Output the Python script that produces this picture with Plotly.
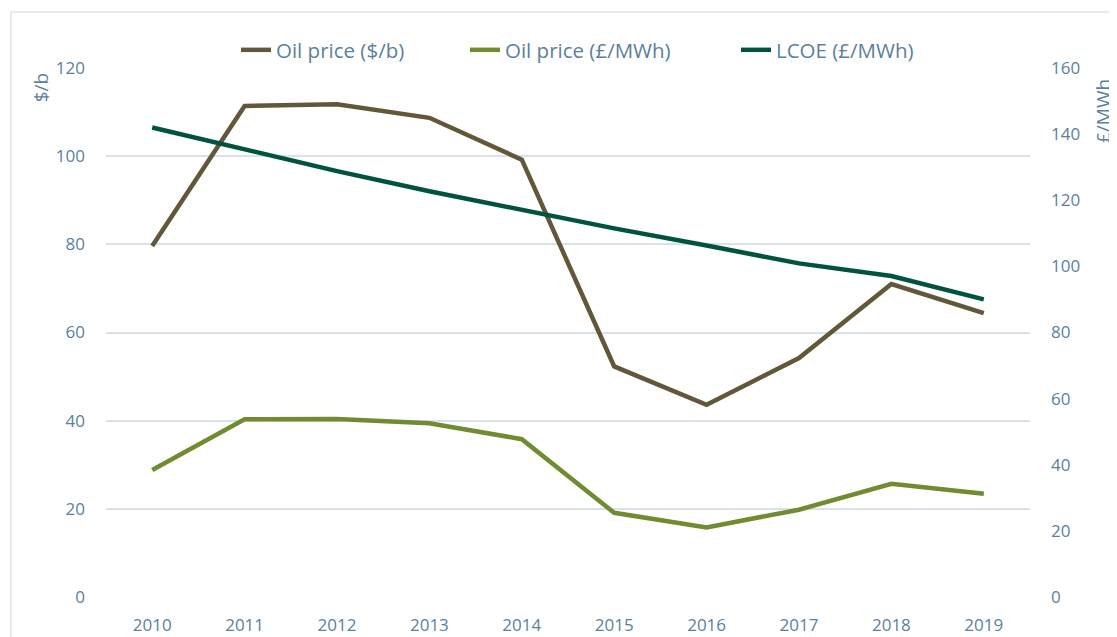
import plotly.graph_objects as go

years = ["2010", "2011", "2012", "2013", "2014", "2015", "2016", "2017", "2018", "2019"]
oil_usd_bbl = [79.6, 111.4, 111.8, 108.7, 99.2, 52.3, 43.6, 54.2, 71.0, 64.4]
oil_gbp_mwh = [28.8, 40.3, 40.4, 39.4, 35.8, 19.1, 15.8, 19.8, 25.7, 23.4]
lcoe_gbp_mwh = [142.0, 135.4, 128.8, 122.7, 117.1, 111.5, 106.3, 100.9, 97.1, 90.0]

left_ticks = [0, 20, 40, 60, 80, 100, 120]
right_ticks = [0, 20, 40, 60, 80, 100, 120, 140, 160]

TXT = "#5b7f9d"
GRID = "#d9e2ea"
FONT = "Open Sans"

fig = go.Figure()
fig.add_trace(go.Scatter(x=years, y=oil_usd_bbl, name="Oil price ($/b)", mode="lines",
                         line=dict(color="#635739", width=4.5), legend="legend"))
fig.add_trace(go.Scatter(x=years, y=oil_gbp_mwh, name="Oil price (£/MWh)", mode="lines",
                         line=dict(color="#718c30", width=4.5), legend="legend2"))
fig.add_trace(go.Scatter(x=years, y=lcoe_gbp_mwh, name="LCOE (£/MWh)", mode="lines",
                         line=dict(color="#00533f", width=4.5), yaxis="y2", legend="legend3"))

W, H = 1109, 629


def leg(text_start_screen):
    return dict(orientation="h", xref="container", yref="container",
                x=(text_start_screen - 8 - 42) / W, xanchor="left",
                y=1 - 42 / H, yanchor="middle",
                font=dict(size=20.5, color=TXT), bgcolor="rgba(0,0,0,0)")


fig.update_layout(
    width=W, height=H,
    margin=dict(l=98, r=87, t=60, b=40, autoexpand=False),
    paper_bgcolor="white", plot_bgcolor="white",
    font=dict(family=FONT, color=TXT, size=17),
    showlegend=True,
    legend=leg(278), legend2=leg(507), legend3=leg(778),
    xaxis=dict(type="category", range=[-0.5, 9.5], showgrid=False, showline=False,
               zeroline=False, ticks="", ticklabelstandoff=16,
               tickfont=dict(size=17, color=TXT)),
    yaxis=dict(range=[0, 120], tickvals=left_ticks, showgrid=True, gridcolor=GRID,
               gridwidth=1.5, zeroline=False, showline=False, ticks="",
               ticklabelstandoff=20, tickfont=dict(size=17, color=TXT)),
    yaxis2=dict(range=[0, 160], tickvals=right_ticks, overlaying="y", side="right",
                showgrid=False, zeroline=False, showline=False, ticks="",
                ticklabelstandoff=20, tickfont=dict(size=17, color=TXT)),
    annotations=[
        dict(text="$/b", xref="paper", yref="paper", x=-0.07, y=1.0, xanchor="center",
             yanchor="middle", textangle=-90, showarrow=False,
             font=dict(size=19, color=TXT), yshift=-20),
        dict(text="£/MWh", xref="paper", yref="paper", x=1.079, y=1.0, xanchor="center",
             yanchor="middle", textangle=-90, showarrow=False,
             font=dict(size=19, color=TXT), yshift=-43),
    ],
    shapes=[
        dict(type="rect", xref="paper", yref="paper", x0=-0.103, x1=1.2, y0=-0.5, y1=1.106,
             line=dict(color="#dde5ec", width=1.5), fillcolor="rgba(0,0,0,0)", layer="below"),
    ],
)

fig.write_html("out.html")
